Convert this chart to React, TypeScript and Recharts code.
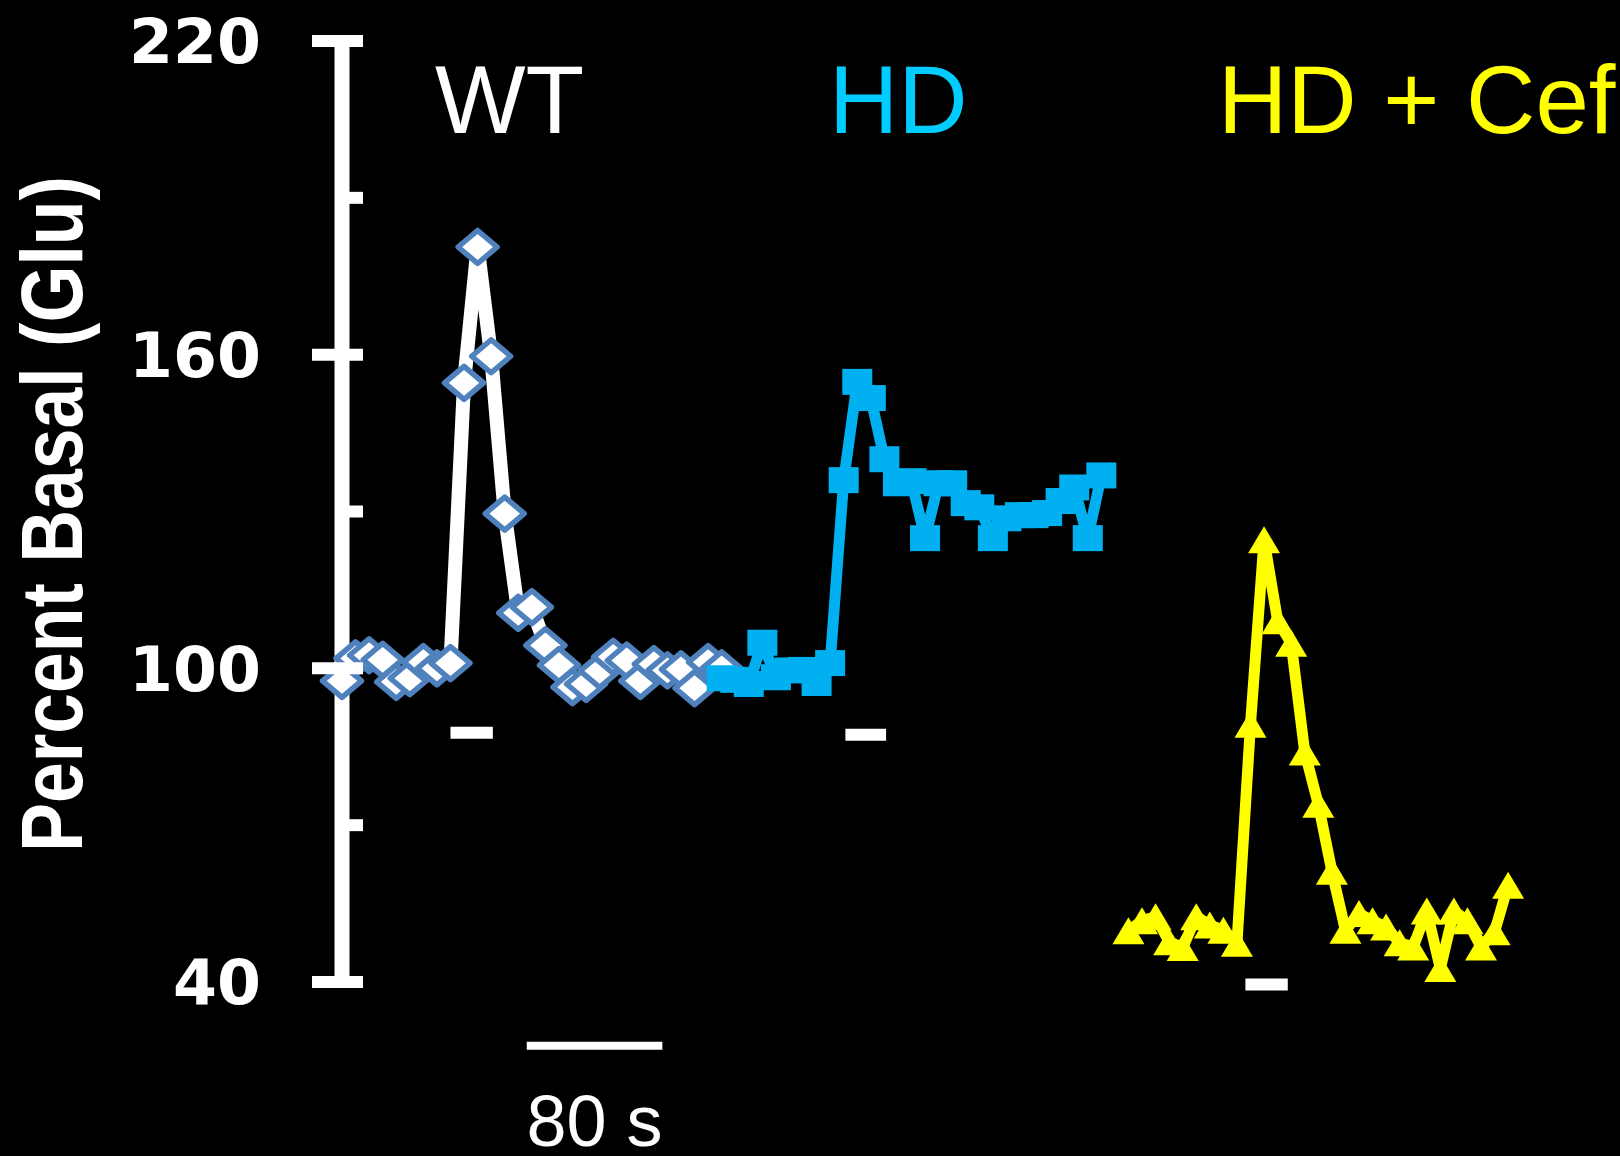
import React from 'react';
import { LineChart, Line, XAxis, YAxis, ReferenceLine } from 'recharts';

// seconds between samples
const STEP = 8;

// Percent basal glutamate, one value per sample
const wtValues = [
  97.6, 101.9, 102.5, 101.6, 97.4, 98.1, 101.2, 100, 101, 154.6,
  180.6, 159.7, 129.6, 110.6, 111.7, 104.4, 100.6, 96.4, 97.0, 99.5,
  102.2, 101.5, 97.6, 100.8, 99.6, 99.8, 96.2, 101.2, 100.0,
];
const hdValues = [
  98.1, 97.8, 97.0, 104.9, 98.3, 99.6, 99.7, 97.2, 101, 136,
  154.8, 151.7, 140.0, 135.4, 135.8, 124.9, 135.4, 135.4, 131.6, 130.8,
  124.9, 128.7, 129.3, 129.3, 129.7, 132, 134.6, 124.9, 136.9,
];
const cefValues = [
  49.8, 51.7, 52.5, 47.7, 46.6, 52.5, 50.9, 49.9, 47.4, 89.3,
  124.6, 109.1, 104.8, 84, 74, 61.2, 49.9, 53.1, 51.7, 50.5,
  47.5, 46.7, 53.6, 42.6, 53.6, 51.7, 46.7, 49.6, 58.5,
];

// start time (s) of each recording on the shared time axis
const wtStart = 0;
const hdStart = 224;
const cefStart = 464;

const yTicks = [40, 70, 100, 130, 160, 190, 220];
const majorTicks = [40, 100, 160, 220];

// stimulus marks under each trace: [from s, to s, level]
const stimWT = [64, 89, 87.7];
const stimHD = [297, 321, 87.3];
const stimCef = [533, 558, 39.5];

// time scale bar
const scaleBar = [109, 189, 27.8];
const scaleLabel = '80 s';

const groupTitles = ['WT', 'HD', 'HD + Cef'];

const toSeries = (start: number, values: number[]) =>
  values.map((v, i) => ({ t: start + i * STEP, v }));

const wtData = toSeries(wtStart, wtValues);
const hdData = toSeries(hdStart, hdValues);
const cefData = toSeries(cefStart, cefValues);

const AXIS_X = 342;

const AxisTick = (props: any) => {
  const { y, payload } = props;
  const major = majorTicks.includes(payload.value);
  const label = String(payload.value);
  return (
    <g>
      <line
        x1={major ? AXIS_X - 30 : AXIS_X}
        x2={AXIS_X + 21}
        y1={y}
        y2={y}
        stroke="#fff"
        strokeWidth={12}
      />
      {major && (
        <text
          x={261}
          y={y}
          dy="0.36em"
          textAnchor="end"
          textLength={label.length * 44}
          lengthAdjust="spacingAndGlyphs"
          fill="#fff"
          fontFamily="'DejaVu Sans', Verdana, sans-serif"
          fontWeight="bold"
          fontSize={62}
        >
          {label}
        </text>
      )}
    </g>
  );
};

const Diamond = ({ cx, cy }: any) => (
  <polygon
    points={`${cx - 19.5},${cy} ${cx},${cy - 16.5} ${cx + 19.5},${cy} ${cx},${cy + 16.5}`}
    fill="#fff"
    stroke="#4F81BD"
    strokeWidth={5.5}
    strokeLinejoin="round"
  />
);

const Square = ({ cx, cy }: any) => (
  <rect x={cx - 15} y={cy - 13} width={30} height={26} fill="#00B0F0" />
);

const Triangle = ({ cx, cy }: any) => (
  <polygon
    points={`${cx - 16},${cy + 13.5} ${cx},${cy - 13.5} ${cx + 16},${cy + 13.5}`}
    fill="#FFFF00"
  />
);

const stimLine = (s: number[], key: string) => (
  <ReferenceLine
    key={key}
    segment={[{ x: s[0], y: s[2] }, { x: s[1], y: s[2] }]}
    stroke="#fff"
    strokeWidth={12}
    ifOverflow="visible"
  />
);

export default function App() {
  return (
    <div
      style={{
        position: 'absolute',
        left: 0,
        top: 0,
        width: 1620,
        height: 1156,
        background: '#000',
        overflow: 'hidden',
      }}
    >
      <LineChart width={1620} height={1156} margin={{ top: 41, right: 0, bottom: 174, left: 0 }}>
        <XAxis type="number" dataKey="t" domain={[0, 754]} hide />
        <YAxis
          domain={[40, 220]}
          ticks={yTicks}
          interval={0}
          width={AXIS_X}
          tickSize={0}
          tickMargin={0}
          tickLine={false}
          axisLine={{ stroke: '#fff', strokeWidth: 15 }}
          tick={(p: any) => <AxisTick {...p} />}
          label={{
            content: () => (
              <text
                x={82}
                y={514}
                transform="rotate(-90 82 514)"
                textAnchor="middle"
                textLength={676}
                lengthAdjust="spacingAndGlyphs"
                fill="#fff"
                fontFamily="'Liberation Sans', Arial, sans-serif"
                fontWeight="bold"
                fontSize={88}
              >
                Percent Basal (Glu)
              </text>
            ),
          }}
        />
        <Line
          data={wtData}
          dataKey="v"
          stroke="#fff"
          strokeWidth={14}
          strokeLinejoin="round"
          isAnimationActive={false}
          activeDot={false}
          dot={(p: any) => <Diamond key={`wt-${p.index}`} cx={p.cx} cy={p.cy} />}
        />
        <Line
          data={hdData}
          dataKey="v"
          stroke="#00B0F0"
          strokeWidth={11}
          strokeLinejoin="round"
          isAnimationActive={false}
          activeDot={false}
          dot={(p: any) => <Square key={`hd-${p.index}`} cx={p.cx} cy={p.cy} />}
        />
        <Line
          data={cefData}
          dataKey="v"
          stroke="#FFFF00"
          strokeWidth={11}
          strokeLinejoin="round"
          isAnimationActive={false}
          activeDot={false}
          dot={(p: any) => <Triangle key={`cef-${p.index}`} cx={p.cx} cy={p.cy} />}
        />
        {stimLine(stimWT, 'stim-wt')}
        {stimLine(stimHD, 'stim-hd')}
        {stimLine(stimCef, 'stim-cef')}
        <ReferenceLine
          segment={[{ x: scaleBar[0], y: scaleBar[2] }, { x: scaleBar[1], y: scaleBar[2] }]}
          stroke="#fff"
          strokeWidth={8}
          ifOverflow="visible"
          label={{
            content: (lp: any) => {
              const vb = lp.viewBox || {};
              return (
                <text
                  x={(vb.x ?? 527) + (vb.width ?? 135) / 2}
                  y={(vb.y ?? 1046) + 100}
                  textAnchor="middle"
                  fill="#fff"
                  fontFamily="'Liberation Sans', Arial, sans-serif"
                  fontSize={72}
                >
                  {scaleLabel}
                </text>
              );
            },
          }}
        />
      </LineChart>
      <svg
        width={1620}
        height={1156}
        style={{ position: 'absolute', left: 0, top: 0, pointerEvents: 'none' }}
      >
        <g fontFamily="'Liberation Sans', Arial, sans-serif" fontSize={96}>
          <text x={435} y={133} fill="#ffffff">{groupTitles[0]}</text>
          <text x={829} y={133} fill="#00CCFF">{groupTitles[1]}</text>
          <text x={1218} y={133} fill="#FFFF00">{groupTitles[2]}</text>
        </g>
      </svg>
    </div>
  );
}
